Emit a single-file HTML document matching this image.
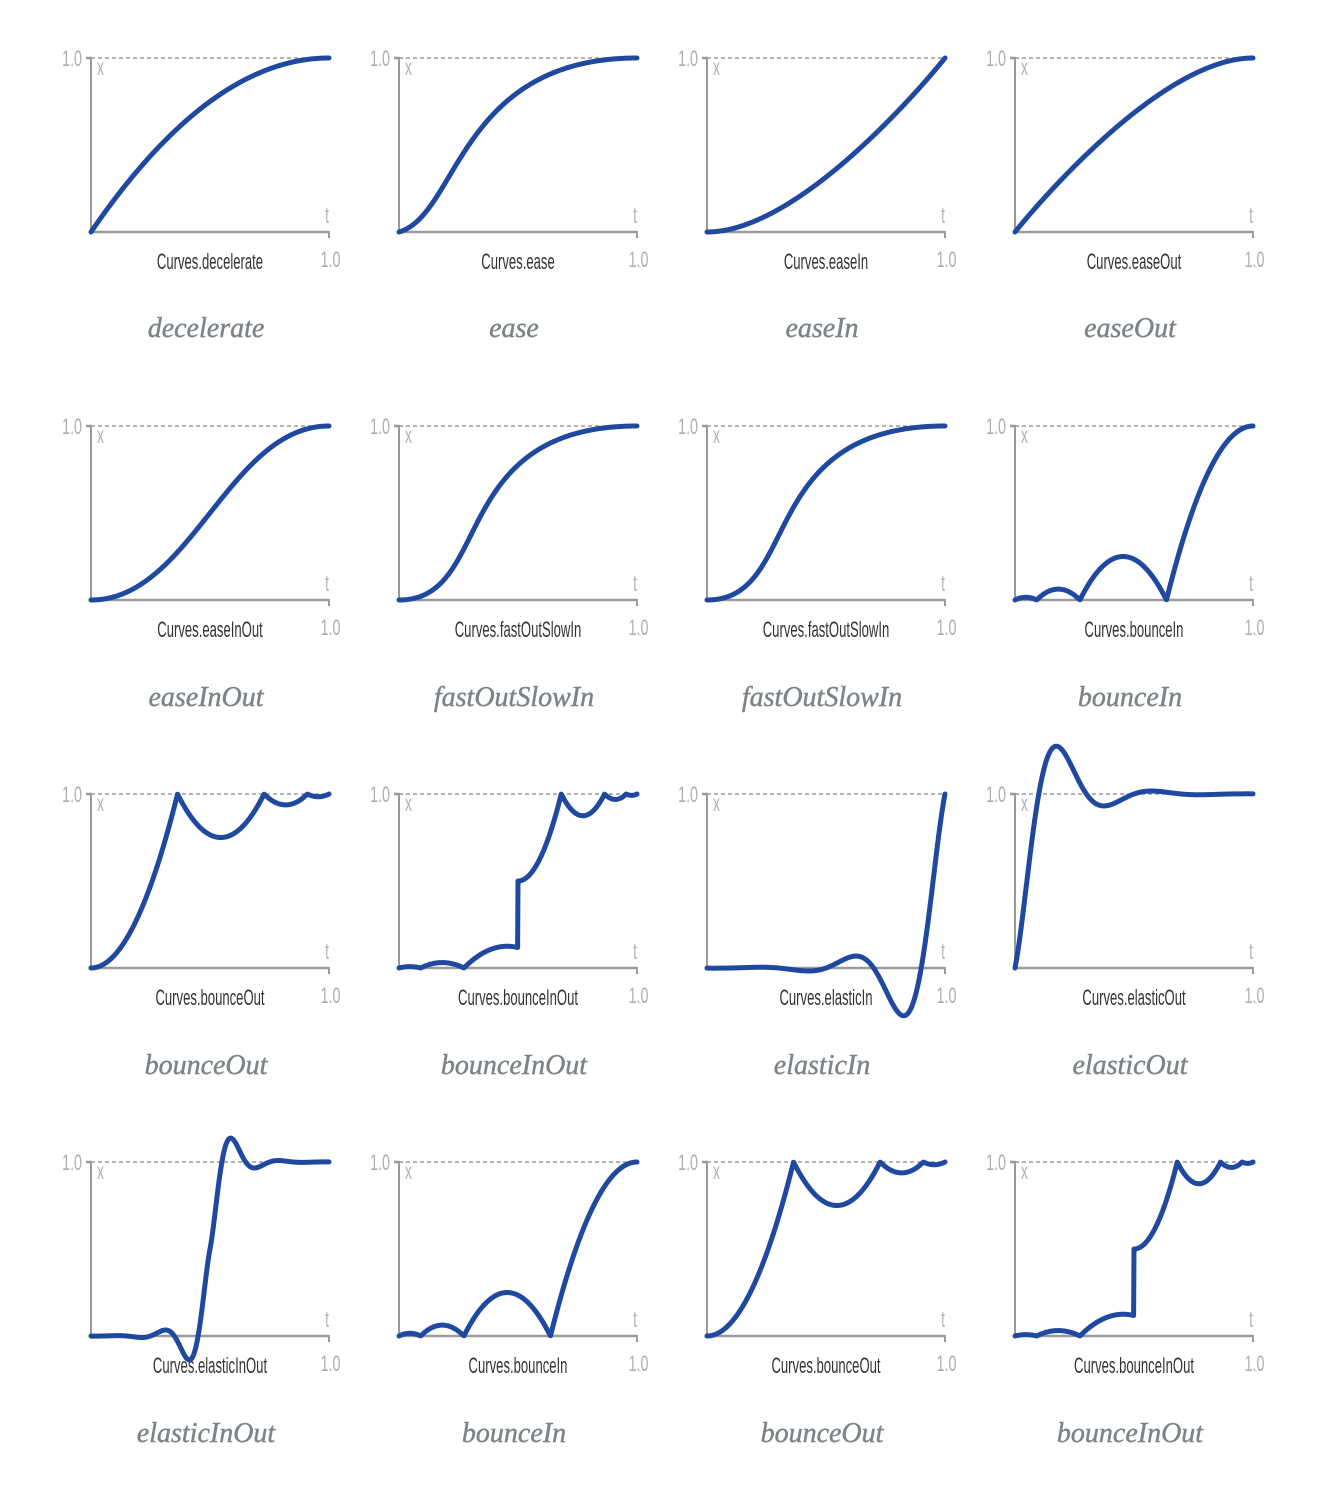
<!DOCTYPE html>
<html><head><meta charset="utf-8">
<style>
html,body{margin:0;padding:0;background:#fff;width:1340px;height:1490px;overflow:hidden}
svg{display:block}
.n{font-family:"Liberation Sans",sans-serif;font-size:22px;fill:#aeaeae}
.xl{font-family:"Liberation Sans",sans-serif;font-size:23px;fill:#b0b0b0}
.lb{font-family:"Liberation Sans",sans-serif;font-size:22px;fill:#333}
.tt{font-family:"Liberation Serif",serif;font-style:italic;font-size:28px;fill:#7d8489;stroke:#7d8489;stroke-width:0.45}
</style></head>
<body>
<svg id="s" width="1340" height="1490" xmlns="http://www.w3.org/2000/svg">
<g id="axes"></g>
<g id="txt">
<!-- row 1 -->
<g transform="translate(91,232)">
<text class="n" text-anchor="end" transform="translate(-9,-166) scale(0.65,1)">1.0</text>
<text class="xl" transform="translate(6,-157) scale(0.6,1)">x</text>
<text class="xl" text-anchor="middle" transform="translate(236,-9) scale(0.6,1)">t</text>
<text class="n" text-anchor="middle" transform="translate(239.5,35) scale(0.65,1)">1.0</text>
<text class="lb" text-anchor="middle" transform="translate(119,37) scale(0.595,1)">Curves.decelerate</text>
<text class="tt" text-anchor="middle" x="115" y="105">decelerate</text>
</g>
<g transform="translate(399,232)">
<text class="n" text-anchor="end" transform="translate(-9,-166) scale(0.65,1)">1.0</text>
<text class="xl" transform="translate(6,-157) scale(0.6,1)">x</text>
<text class="xl" text-anchor="middle" transform="translate(236,-9) scale(0.6,1)">t</text>
<text class="n" text-anchor="middle" transform="translate(239.5,35) scale(0.65,1)">1.0</text>
<text class="lb" text-anchor="middle" transform="translate(119,37) scale(0.595,1)">Curves.ease</text>
<text class="tt" text-anchor="middle" x="115" y="105">ease</text>
</g>
<g transform="translate(707,232)">
<text class="n" text-anchor="end" transform="translate(-9,-166) scale(0.65,1)">1.0</text>
<text class="xl" transform="translate(6,-157) scale(0.6,1)">x</text>
<text class="xl" text-anchor="middle" transform="translate(236,-9) scale(0.6,1)">t</text>
<text class="n" text-anchor="middle" transform="translate(239.5,35) scale(0.65,1)">1.0</text>
<text class="lb" text-anchor="middle" transform="translate(119,37) scale(0.595,1)">Curves.easeIn</text>
<text class="tt" text-anchor="middle" x="115" y="105">easeIn</text>
</g>
<g transform="translate(1015,232)">
<text class="n" text-anchor="end" transform="translate(-9,-166) scale(0.65,1)">1.0</text>
<text class="xl" transform="translate(6,-157) scale(0.6,1)">x</text>
<text class="xl" text-anchor="middle" transform="translate(236,-9) scale(0.6,1)">t</text>
<text class="n" text-anchor="middle" transform="translate(239.5,35) scale(0.65,1)">1.0</text>
<text class="lb" text-anchor="middle" transform="translate(119,37) scale(0.595,1)">Curves.easeOut</text>
<text class="tt" text-anchor="middle" x="115" y="105">easeOut</text>
</g>
<!-- row 2 -->
<g transform="translate(91,600)">
<text class="n" text-anchor="end" transform="translate(-9,-166) scale(0.65,1)">1.0</text>
<text class="xl" transform="translate(6,-157) scale(0.6,1)">x</text>
<text class="xl" text-anchor="middle" transform="translate(236,-9) scale(0.6,1)">t</text>
<text class="n" text-anchor="middle" transform="translate(239.5,35) scale(0.65,1)">1.0</text>
<text class="lb" text-anchor="middle" transform="translate(119,37) scale(0.595,1)">Curves.easeInOut</text>
<text class="tt" text-anchor="middle" x="115" y="106">easeInOut</text>
</g>
<g transform="translate(399,600)">
<text class="n" text-anchor="end" transform="translate(-9,-166) scale(0.65,1)">1.0</text>
<text class="xl" transform="translate(6,-157) scale(0.6,1)">x</text>
<text class="xl" text-anchor="middle" transform="translate(236,-9) scale(0.6,1)">t</text>
<text class="n" text-anchor="middle" transform="translate(239.5,35) scale(0.65,1)">1.0</text>
<text class="lb" text-anchor="middle" transform="translate(119,37) scale(0.595,1)">Curves.fastOutSlowIn</text>
<text class="tt" text-anchor="middle" x="115" y="106">fastOutSlowIn</text>
</g>
<g transform="translate(707,600)">
<text class="n" text-anchor="end" transform="translate(-9,-166) scale(0.65,1)">1.0</text>
<text class="xl" transform="translate(6,-157) scale(0.6,1)">x</text>
<text class="xl" text-anchor="middle" transform="translate(236,-9) scale(0.6,1)">t</text>
<text class="n" text-anchor="middle" transform="translate(239.5,35) scale(0.65,1)">1.0</text>
<text class="lb" text-anchor="middle" transform="translate(119,37) scale(0.595,1)">Curves.fastOutSlowIn</text>
<text class="tt" text-anchor="middle" x="115" y="106">fastOutSlowIn</text>
</g>
<g transform="translate(1015,600)">
<text class="n" text-anchor="end" transform="translate(-9,-166) scale(0.65,1)">1.0</text>
<text class="xl" transform="translate(6,-157) scale(0.6,1)">x</text>
<text class="xl" text-anchor="middle" transform="translate(236,-9) scale(0.6,1)">t</text>
<text class="n" text-anchor="middle" transform="translate(239.5,35) scale(0.65,1)">1.0</text>
<text class="lb" text-anchor="middle" transform="translate(119,37) scale(0.595,1)">Curves.bounceIn</text>
<text class="tt" text-anchor="middle" x="115" y="106">bounceIn</text>
</g>
<!-- row 3 -->
<g transform="translate(91,968)">
<text class="n" text-anchor="end" transform="translate(-9,-166) scale(0.65,1)">1.0</text>
<text class="xl" transform="translate(6,-157) scale(0.6,1)">x</text>
<text class="xl" text-anchor="middle" transform="translate(236,-9) scale(0.6,1)">t</text>
<text class="n" text-anchor="middle" transform="translate(239.5,35) scale(0.65,1)">1.0</text>
<text class="lb" text-anchor="middle" transform="translate(119,37) scale(0.595,1)">Curves.bounceOut</text>
<text class="tt" text-anchor="middle" x="115" y="106">bounceOut</text>
</g>
<g transform="translate(399,968)">
<text class="n" text-anchor="end" transform="translate(-9,-166) scale(0.65,1)">1.0</text>
<text class="xl" transform="translate(6,-157) scale(0.6,1)">x</text>
<text class="xl" text-anchor="middle" transform="translate(236,-9) scale(0.6,1)">t</text>
<text class="n" text-anchor="middle" transform="translate(239.5,35) scale(0.65,1)">1.0</text>
<text class="lb" text-anchor="middle" transform="translate(119,37) scale(0.595,1)">Curves.bounceInOut</text>
<text class="tt" text-anchor="middle" x="115" y="106">bounceInOut</text>
</g>
<g transform="translate(707,968)">
<text class="n" text-anchor="end" transform="translate(-9,-166) scale(0.65,1)">1.0</text>
<text class="xl" transform="translate(6,-157) scale(0.6,1)">x</text>
<text class="xl" text-anchor="middle" transform="translate(236,-9) scale(0.6,1)">t</text>
<text class="n" text-anchor="middle" transform="translate(239.5,35) scale(0.65,1)">1.0</text>
<text class="lb" text-anchor="middle" transform="translate(119,37) scale(0.595,1)">Curves.elasticIn</text>
<text class="tt" text-anchor="middle" x="115" y="106">elasticIn</text>
</g>
<g transform="translate(1015,968)">
<text class="n" text-anchor="end" transform="translate(-9,-166) scale(0.65,1)">1.0</text>
<text class="xl" transform="translate(6,-157) scale(0.6,1)">x</text>
<text class="xl" text-anchor="middle" transform="translate(236,-9) scale(0.6,1)">t</text>
<text class="n" text-anchor="middle" transform="translate(239.5,35) scale(0.65,1)">1.0</text>
<text class="lb" text-anchor="middle" transform="translate(119,37) scale(0.595,1)">Curves.elasticOut</text>
<text class="tt" text-anchor="middle" x="115" y="106">elasticOut</text>
</g>
<!-- row 4 -->
<g transform="translate(91,1336)">
<text class="n" text-anchor="end" transform="translate(-9,-166) scale(0.65,1)">1.0</text>
<text class="xl" transform="translate(6,-157) scale(0.6,1)">x</text>
<text class="xl" text-anchor="middle" transform="translate(236,-9) scale(0.6,1)">t</text>
<text class="n" text-anchor="middle" transform="translate(239.5,35) scale(0.65,1)">1.0</text>
<text class="lb" text-anchor="middle" transform="translate(119,37) scale(0.595,1)">Curves.elasticInOut</text>
<text class="tt" text-anchor="middle" x="115" y="106">elasticInOut</text>
</g>
<g transform="translate(399,1336)">
<text class="n" text-anchor="end" transform="translate(-9,-166) scale(0.65,1)">1.0</text>
<text class="xl" transform="translate(6,-157) scale(0.6,1)">x</text>
<text class="xl" text-anchor="middle" transform="translate(236,-9) scale(0.6,1)">t</text>
<text class="n" text-anchor="middle" transform="translate(239.5,35) scale(0.65,1)">1.0</text>
<text class="lb" text-anchor="middle" transform="translate(119,37) scale(0.595,1)">Curves.bounceIn</text>
<text class="tt" text-anchor="middle" x="115" y="106">bounceIn</text>
</g>
<g transform="translate(707,1336)">
<text class="n" text-anchor="end" transform="translate(-9,-166) scale(0.65,1)">1.0</text>
<text class="xl" transform="translate(6,-157) scale(0.6,1)">x</text>
<text class="xl" text-anchor="middle" transform="translate(236,-9) scale(0.6,1)">t</text>
<text class="n" text-anchor="middle" transform="translate(239.5,35) scale(0.65,1)">1.0</text>
<text class="lb" text-anchor="middle" transform="translate(119,37) scale(0.595,1)">Curves.bounceOut</text>
<text class="tt" text-anchor="middle" x="115" y="106">bounceOut</text>
</g>
<g transform="translate(1015,1336)">
<text class="n" text-anchor="end" transform="translate(-9,-166) scale(0.65,1)">1.0</text>
<text class="xl" transform="translate(6,-157) scale(0.6,1)">x</text>
<text class="xl" text-anchor="middle" transform="translate(236,-9) scale(0.6,1)">t</text>
<text class="n" text-anchor="middle" transform="translate(239.5,35) scale(0.65,1)">1.0</text>
<text class="lb" text-anchor="middle" transform="translate(119,37) scale(0.595,1)">Curves.bounceInOut</text>
<text class="tt" text-anchor="middle" x="115" y="106">bounceInOut</text>
</g>
</g>
<g id="curves"></g>
</svg>
<script>
(function(){
var NS="http://www.w3.org/2000/svg";
var W=238,H=174;
function el(tag,attrs,parent){var e=document.createElementNS(NS,tag);for(var k in attrs)e.setAttribute(k,attrs[k]);parent.appendChild(e);return e;}
function bez(p1,p2,m){var n=1-m;return 3*p1*n*n*m+3*p2*n*m*m+m*m*m;}
function cubic(a,b,c,d){return function(t){var s=0,e=1,m=0;for(var i=0;i<40;i++){m=(s+e)/2;if(bez(a,c,m)<t)s=m;else e=m;}return bez(b,d,m);};}
function bounce(t){
 if(t<1/2.75)return 7.5625*t*t;
 else if(t<2/2.75){t-=1.5/2.75;return 7.5625*t*t+0.75;}
 else if(t<2.5/2.75){t-=2.25/2.75;return 7.5625*t*t+0.9375;}
 t-=2.625/2.75;return 7.5625*t*t+0.984375;
}
var P=0.4,S=P/4;
var F={
 decelerate:function(t){return 1-(1-t)*(1-t);},
 ease:cubic(0.25,0.1,0.25,1.0),
 easeIn:cubic(0.42,0,1,1),
 easeOut:cubic(0,0,0.58,1),
 easeInOut:cubic(0.42,0,0.58,1),
 fastOutSlowIn:cubic(0.4,0,0.2,1),
 bounceIn:function(t){return 1-bounce(1-t);},
 bounceOut:function(t){return bounce(t);},
 bounceInOut:function(t){if(t<0.5)return (1-bounce(1-t))*0.5;return bounce(t*2-1)*0.5+0.5;},
 elasticIn:function(t){var u=t-1;return -Math.pow(2,10*u)*Math.sin((u-S)*Math.PI*2/P);},
 elasticOut:function(t){return Math.pow(2,-10*t)*Math.sin((t-S)*Math.PI*2/P)+1;},
 elasticInOut:function(t){var u=2*t-1;if(u<0)return -0.5*Math.pow(2,10*u)*Math.sin((u-S)*Math.PI*2/P);return Math.pow(2,-10*u)*Math.sin((u-S)*Math.PI*2/P)*0.5+1;}
};
var grid=[["decelerate","ease","easeIn","easeOut"],["easeInOut","fastOutSlowIn","fastOutSlowIn","bounceIn"],["bounceOut","bounceInOut","elasticIn","elasticOut"],["elasticInOut","bounceIn","bounceOut","bounceInOut"]];
var axes=document.getElementById("axes"),curves=document.getElementById("curves");
for(var r=0;r<4;r++)for(var c=0;c<4;c++){
 var ox=91+308*c,by=232+368*r;
 var g=el("g",{transform:"translate("+ox+","+by+")"},axes);
 el("line",{x1:0,y1:-H,x2:W,y2:-H,stroke:"#9a9a9a","stroke-width":1.5,"stroke-dasharray":"4 3"},g);
 el("line",{x1:0,y1:-H,x2:0,y2:0,stroke:"#9a9a9a","stroke-width":2},g);
 el("line",{x1:-5,y1:-H,x2:1,y2:-H,stroke:"#9a9a9a","stroke-width":2.5},g);
 el("line",{x1:0,y1:0,x2:W,y2:0,stroke:"#9a9a9a","stroke-width":2.5},g);
 el("line",{x1:W,y1:-1,x2:W,y2:6,stroke:"#9a9a9a","stroke-width":2},g);
 var f=F[grid[r][c]],N=600,d="";
 for(var i=0;i<=N;i++){var t=i/N;var y=f(t);d+=(i?"L":"M")+(ox+t*W).toFixed(2)+","+(by-y*H).toFixed(2);}
 el("path",{d:d,fill:"none",stroke:"#1f48a0","stroke-width":5,"stroke-linejoin":"round","stroke-linecap":"round"},curves);
}
})();
</script>
</body></html>
